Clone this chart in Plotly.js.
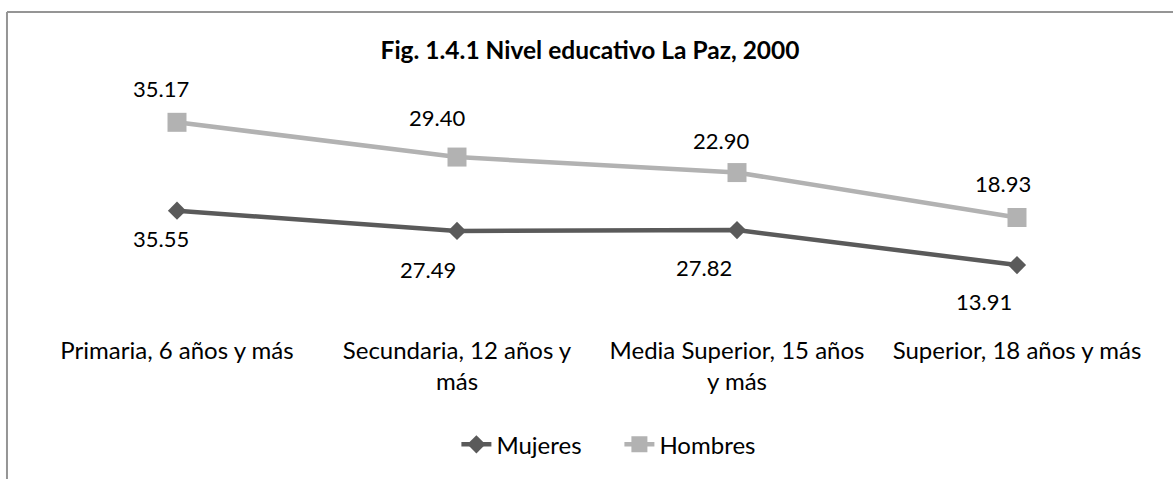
<!DOCTYPE html>
<html>
<head>
<meta charset="utf-8">
<script src="https://cdn.plot.ly/plotly-3.0.1.min.js"></script>
<style>
  html, body { margin: 0; padding: 0; background: #ffffff; }
  #container { width: 1173px; height: 479px; }
</style>
</head>
<body>
<div id="container"></div>
<script>
var categories = ['Primaria, 6 años y más', 'Secundaria, 12 años y<br>más',
                  'Media Superior, 15 años<br>y más', 'Superior, 18 años y más'];
var mujeres = [35.55, 27.49, 27.82, 13.91];
var hombres = [35.17, 29.40, 22.90, 18.93];

// label nudges in px (Excel placed them by hand)
var mujDx = [-16, -29, -33, -33];
var mujDy = [-28, -39, -37, -36];
var homDx = [-16, -20, -16, -14];
var homDy = [34, 40, 32, 34];

var fontFamily = 'Lato, "Open Sans", sans-serif';
var xIdx = categories.map(function (c, i) { return i; });

// stacked line chart: second series sits on top of the first
var hombresStack = hombres.map(function (v, i) { return v + mujeres[i]; });

var traceMuj = {
    x: xIdx,
    y: mujeres,
    mode: 'lines+markers',
    type: 'scatter',
    name: 'Mujeres',
    line: {color: '#5a5a5a', width: 4.5},
    marker: {symbol: 'diamond', size: 14, color: '#5a5a5a'}
};

var traceHom = {
    x: xIdx,
    y: hombresStack,
    mode: 'lines+markers',
    type: 'scatter',
    name: 'Hombres',
    line: {color: '#b2b2b2', width: 4.5},
    marker: {symbol: 'square', size: 19, color: '#b2b2b2'}
};

var annotations = [];
mujeres.forEach(function (v, i) {
    annotations.push({
        x: i, y: v, xref: 'x', yref: 'y',
        text: v.toFixed(2), showarrow: false,
        xshift: mujDx[i], yshift: mujDy[i],
        font: {family: fontFamily, size: 22, color: '#000000'}
    });
});
hombres.forEach(function (v, i) {
    annotations.push({
        x: i, y: hombresStack[i], xref: 'x', yref: 'y',
        text: v.toFixed(2), showarrow: false,
        xshift: homDx[i], yshift: homDy[i],
        font: {family: fontFamily, size: 22, color: '#000000'}
    });
});

var layout = {
    width: 1173,
    height: 479,
    margin: {l: 37, r: 16, t: 99, b: 177},
    paper_bgcolor: '#ffffff',
    plot_bgcolor: '#ffffff',
    font: {family: fontFamily, size: 24, color: '#000000'},
    title: {
        text: '<b>Fig. 1.4.1 Nivel educativo La Paz, 2000</b>',
        font: {family: fontFamily, size: 24.5, color: '#000000'},
        x: 0.503, xanchor: 'center',
        y: 0.895, yanchor: 'middle'
    },
    showlegend: true,
    legend: {
        orientation: 'h',
        x: 0.52, xanchor: 'center',
        y: -0.72, yanchor: 'middle',
        entrywidth: 118,
        font: {family: fontFamily, size: 24, color: '#000000'},
        traceorder: 'normal'
    },
    xaxis: {
        range: [-0.5, 3.5],
        tickvals: xIdx,
        ticktext: categories,
        tickfont: {family: fontFamily, size: 24, color: '#000000'},
        ticks: 'outside',
        ticklen: 29,
        tickcolor: 'rgba(0,0,0,0)',
        showline: false,
        showgrid: false,
        zeroline: false,
        fixedrange: true
    },
    yaxis: {
        range: [0, 80],
        visible: false,
        fixedrange: true
    },
    annotations: annotations,
    shapes: [
        {type: 'line', xref: 'paper', yref: 'paper',
         x0: -0.0268, x1: 1.05, y0: 1.433, y1: 1.433,
         line: {color: '#959595', width: 2}},
        {type: 'line', xref: 'paper', yref: 'paper',
         x0: -0.0268, x1: -0.0268, y0: 1.433, y1: -1.0,
         line: {color: '#959595', width: 2}}
    ]
};

Plotly.newPlot('container', [traceMuj, traceHom], layout, {displayModeBar: false, staticPlot: true});
</script>
</body>
</html>
